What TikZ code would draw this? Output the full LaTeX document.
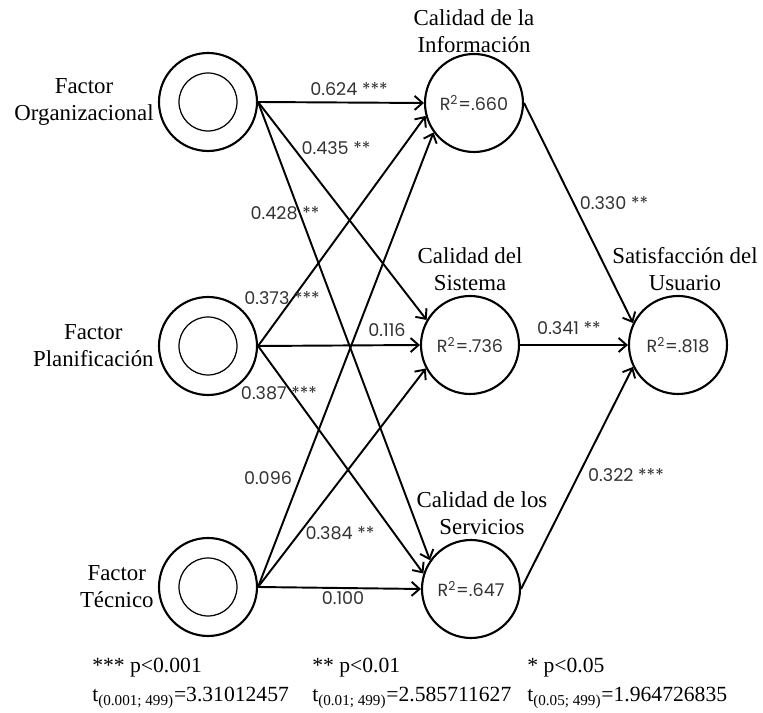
\documentclass[tikz,border=0pt]{standalone}
\usepackage{fontspec}
\setmainfont{Liberation Serif}
\newfontfamily\numfont{Poppins}
\usetikzlibrary{arrows.meta,positioning}

\begin{document}
\begin{tikzpicture}[
  every node/.style={font=\fontsize{13}{15.5}\selectfont},
  latent/.style={circle,draw,line width=1.2pt,minimum size=1.96cm,inner sep=0pt,
    font=\numfont\fontsize{10}{12}\selectfont,text=black!80},
  factor/.style={latent,path picture={\draw[line width=0.7pt]
    (path picture bounding box.center) circle (0.58cm);}},
  coef/.style={font=\numfont\fontsize{10}{12}\selectfont,text=black!80,inner sep=1pt},
  leyenda/.style={align=left,anchor=base west,inner sep=0pt,font=\fontsize{12.3}{16.5}\selectfont},
  link/.style={line width=1.1pt,-{Straight Barb[length=4.5pt,width=8pt]}}]

  \useasboundingbox (0,0) rectangle (15.26,14.26);

  % Factores
  \foreach \n/\y/\t in {org/12.22/Organizacional, plan/7.34/Planificación, tec/2.52/Técnico} {
    \node[factor] (\n) at (4.16,\y) {};
    \node[align=center,inner sep=0pt,left=0.08cm of \n] (\n lab) {Factor\\\t};
  }

  % Calidades y satisfaccion
  \node[latent] (info) at (9.48,12.20) {R\textsuperscript{2}=.660};
  \node[latent] (sist) at (9.40,7.36) {R\textsuperscript{2}=.736};
  \node[latent] (serv) at (9.42,2.48) {R\textsuperscript{2}=.647};
  \node[latent] (sat) at (13.56,7.36) {R\textsuperscript{2}=.818};

  \node[align=center,inner sep=0pt,above=0pt of info] (infolab) {Calidad de la\\Información};
  \node[align=center,inner sep=0pt,above=0.08cm of sist] (sistlab) {Calidad del\\Sistema};
  \node[align=center,inner sep=0pt,above=0.08cm of sat,xshift=0.14cm] (satlab) {Satisfacción del\\Usuario};
  \node[align=center,inner sep=0pt,above=0.08cm of serv,xshift=0.22cm] (servlab) {Calidad de los\\Servicios};

  % Relaciones
  \draw[link] (org.east) -- (info.west);
  \draw[link] (org.east) -- (sist.150);
  \draw[link] (org.east) -- (serv.145);
  \draw[link] (plan.east) -- (info.195);
  \draw[link] (plan.east) -- (sist.west);
  \draw[link] (plan.east) -- (serv.162);
  \draw[link] (tec.east) -- (info.216);
  \draw[link] (tec.east) -- (sist.208);
  \draw[link] (tec.east) -- (serv.west);
  \draw[link] (info.east) -- (sat.154);
  \draw[link] (sist.east) -- (sat.west);
  \draw[link] (serv.east) -- (sat.206);

  % Coeficientes
  \foreach \i/\x/\y/\t in {1/6.98/12.48/0.624 ***, 2/6.72/11.30/0.435 **, 3/5.70/10.00/0.428 **,
      4/5.64/8.30/0.373 ***, 5/7.74/7.66/0.116, 6/5.58/6.40/0.387 ***,
      7/5.36/4.70/0.096, 8/6.80/3.60/0.384 **, 9/6.86/2.30/0.100,
      10/12.28/10.20/0.330 **, 11/11.38/7.70/0.341 **, 12/12.52/4.76/0.322 ***} {
    \node[coef] (c\i) at (\x,\y) {\t};
  }

  % Leyenda
  \node[leyenda] (ley1) at (1.84,0.22) {*** p<0.001\\t\textsubscript{(0.001; 499)}=3.31012457};
  \node[leyenda] (ley2) at (6.24,0.22) {** p<0.01\\t\textsubscript{(0.01; 499)}=2.585711627};
  \node[leyenda] (ley3) at (10.54,0.22) {* p<0.05\\t\textsubscript{(0.05; 499)}=1.964726835};
\end{tikzpicture}
\end{document}
